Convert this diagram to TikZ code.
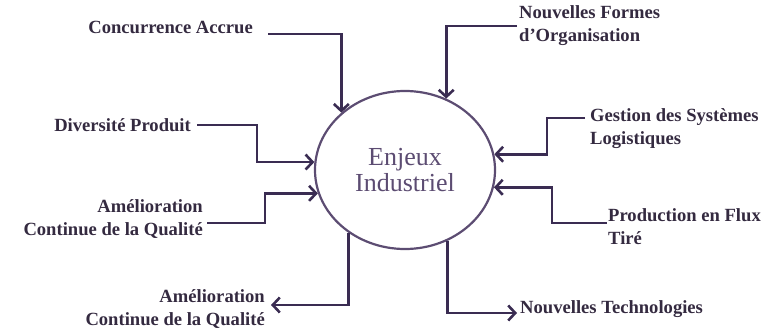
\documentclass[tikz,border=0pt]{standalone}
\usepackage{fontspec}
\setmainfont{LiberationSerif}[Extension=.ttf, UprightFont=*-Regular, BoldFont=*-Bold]
\usetikzlibrary{arrows.meta,shapes.geometric,positioning}
\definecolor{linecol}{RGB}{58,44,82}
\definecolor{textcol}{RGB}{52,42,64}
\definecolor{corecol}{RGB}{92,76,114}
\tikzset{
  lbl/.style={text=textcol, font=\bfseries\fontsize{18.6}{23}\selectfont, inner sep=0pt},
  conn/.style={draw=linecol, line width=2.6pt, -{Straight Barb[length=7pt,width=15pt]}},
}
\begin{document}
\begin{tikzpicture}[x=1pt,y=-1pt]
\useasboundingbox (0,0) rectangle (782,329);

\node[draw=corecol, line width=2.2pt, ellipse, minimum width=180pt, minimum height=158pt, inner sep=0pt, align=center, text=corecol, font=\fontsize{26}{26}\selectfont] (core) at (405,170) {Enjeux\\Industriel};

% inputs on the left
\node[lbl, anchor=base east] (conc) at (253,34) {Concurrence Accrue};
\node[lbl, anchor=east] (div) at (191,125) {Diversité Produit};
\node[lbl, anchor=east, align=right] (amel) at (203,219) {Amélioration\\Continue de la Qualité};
\node[lbl, anchor=east, align=right] (amelout) at (265,309) {Amélioration\\Continue de la Qualité};

% inputs on the right
\node[lbl, anchor=west, align=left] (formes) at (519,26) {Nouvelles Formes\\d’Organisation};
\node[lbl, anchor=west, align=left] (gest) at (590,129) {Gestion des Systèmes\\Logistiques};
\node[lbl, anchor=west, align=left] (prod) at (608,227) {Production en Flux\\Tiré};
\node[lbl, anchor=base west] (tech) at (520,313) {Nouvelles Technologies};

\draw[conn] ([xshift=15pt]conc.base east) -| (core.138);
\draw[conn] ([xshift=6pt]div.east) -- ++(60,0) |- (core.175);
\draw[conn] ([xshift=4pt,yshift=-4pt]amel.east) -- ++(58,0) |- (core.195);
\draw[conn] (core.228) |- ([xshift=6pt,yshift=4pt]amelout.east);
\draw[conn] ([xshift=-2pt]formes.west) -| (core.60);
\draw[conn] ([xshift=-5pt,yshift=11pt]gest.west) -- ++(-38,0) |- (core.10);
\draw[conn] ([xshift=-1pt,yshift=4pt]prod.west) -- ++(-55,0) |- (core.349);
\draw[conn] (core.301) |- ([xshift=-3pt]tech.base west);
\end{tikzpicture}
\end{document}
